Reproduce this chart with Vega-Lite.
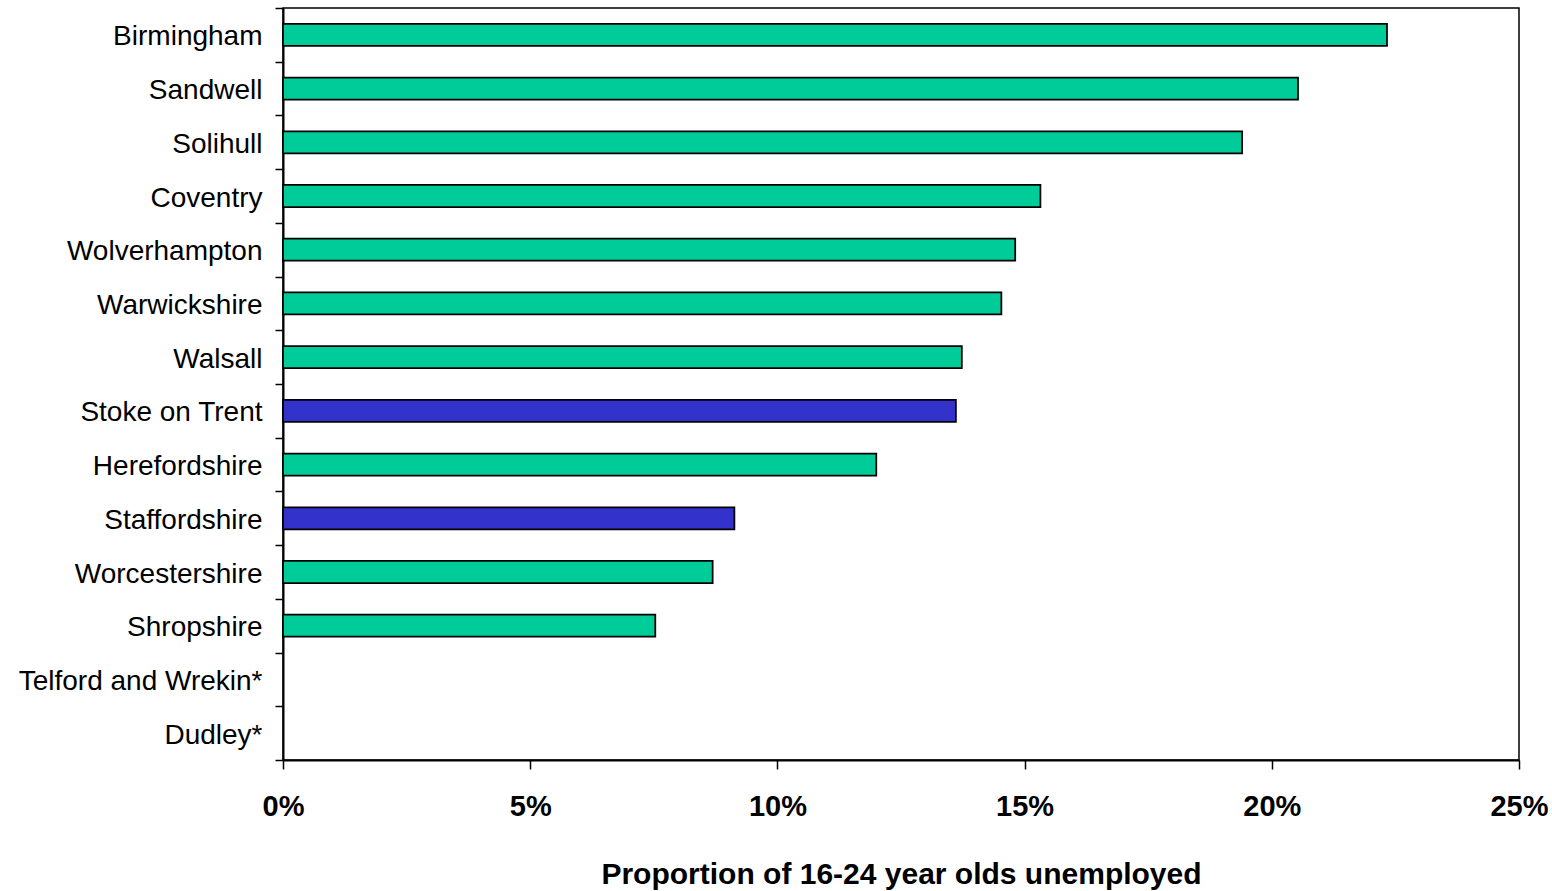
{
  "$schema": "https://vega.github.io/schema/vega-lite/v6.json",
  "width": 1236,
  "height": 752,
  "autosize": {"type": "none"},
  "padding": {"left": 283, "top": 8, "right": 33, "bottom": 131},
  "background": "white",
  "config": {
    "view": {"stroke": "black", "strokeWidth": 1.5},
    "font": "Liberation Sans"
  },
  "data": {
    "values": [
      {"area": "Birmingham", "rate": 0.2233, "group": "other"},
      {"area": "Sandwell", "rate": 0.2053, "group": "other"},
      {"area": "Solihull", "rate": 0.1940, "group": "other"},
      {"area": "Coventry", "rate": 0.1532, "group": "other"},
      {"area": "Wolverhampton", "rate": 0.1481, "group": "other"},
      {"area": "Warwickshire", "rate": 0.1453, "group": "other"},
      {"area": "Walsall", "rate": 0.1373, "group": "other"},
      {"area": "Stoke on Trent", "rate": 0.1361, "group": "staffs"},
      {"area": "Herefordshire", "rate": 0.1200, "group": "other"},
      {"area": "Staffordshire", "rate": 0.0913, "group": "staffs"},
      {"area": "Worcestershire", "rate": 0.0869, "group": "other"},
      {"area": "Shropshire", "rate": 0.0753, "group": "other"},
      {"area": "Telford and Wrekin*", "rate": null, "group": "other"},
      {"area": "Dudley*", "rate": null, "group": "other"}
    ]
  },
  "mark": {"type": "bar", "stroke": "black", "strokeWidth": 1.75, "height": {"band": 0.41}},
  "encoding": {
    "y": {
      "field": "area",
      "type": "nominal",
      "scale": {
        "domain": ["Birmingham", "Sandwell", "Solihull", "Coventry", "Wolverhampton", "Warwickshire", "Walsall", "Stoke on Trent", "Herefordshire", "Staffordshire", "Worcestershire", "Shropshire", "Telford and Wrekin*", "Dudley*"],
        "paddingInner": 0,
        "paddingOuter": 0
      },
      "axis": {
        "title": null,
        "tickBand": "extent",
        "tickSize": 8,
        "tickWidth": 1.5,
        "tickColor": "black",
        "domainColor": "black",
        "domainWidth": 2,
        "labelFontSize": 28,
        "labelFont": "Liberation Sans",
        "labelColor": "black",
        "labelPadding": 13,
        "labelOffset": 2,
        "labelLimit": 300
      }
    },
    "x": {
      "field": "rate",
      "type": "quantitative",
      "scale": {"domain": [0, 0.25], "nice": false, "zero": true},
      "axis": {
        "title": "Proportion of 16-24 year olds unemployed",
        "values": [0, 0.05, 0.1, 0.15, 0.2, 0.25],
        "format": ".0%",
        "grid": false,
        "tickSize": 9,
        "tickWidth": 1.5,
        "tickColor": "black",
        "domainColor": "black",
        "domainWidth": 2,
        "labelFontSize": 29,
        "labelFontWeight": "bold",
        "labelFont": "Liberation Sans",
        "labelColor": "black",
        "labelPadding": 23,
        "labelFlush": false,
        "titleFontSize": 30,
        "titleFontWeight": "bold",
        "titleFont": "Liberation Sans",
        "titleColor": "black",
        "titleY": 123,
        "titleBaseline": "alphabetic"
      }
    },
    "color": {
      "field": "group",
      "type": "nominal",
      "scale": {"domain": ["other", "staffs"], "range": ["#00CC99", "#3333CC"]},
      "legend": null
    }
  }
}
